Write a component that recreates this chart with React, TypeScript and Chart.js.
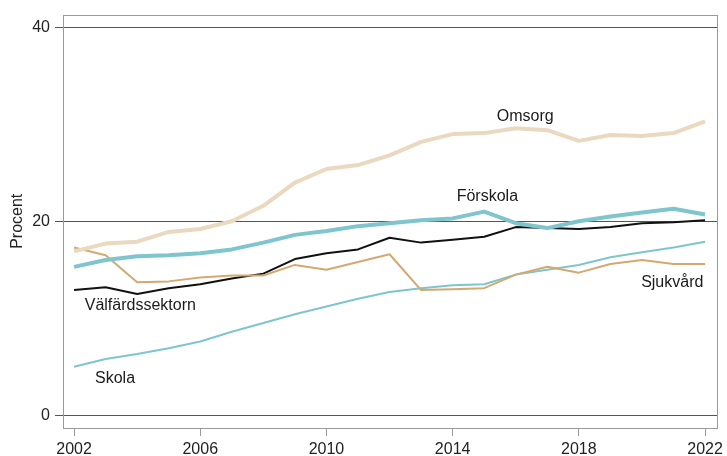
import React, { useEffect, useRef } from "react";
import { Chart, registerables } from "chart.js";

Chart.register(...registerables);

const years = [2002, 2003, 2004, 2005, 2006, 2007, 2008, 2009, 2010, 2011, 2012, 2013, 2014, 2015, 2016, 2017, 2018, 2019, 2020, 2021, 2022];
const omsorg = [16.9, 17.7, 17.9, 18.9, 19.2, 20.0, 21.6, 24.0, 25.4, 25.8, 26.8, 28.2, 29.0, 29.1, 29.6, 29.4, 28.3, 28.9, 28.8, 29.1, 30.3];
const forskola = [15.3, 16.0, 16.4, 16.5, 16.7, 17.1, 17.8, 18.6, 19.0, 19.5, 19.8, 20.1, 20.3, 21.0, 19.8, 19.3, 20.0, 20.5, 20.9, 21.3, 20.7];
const valfard = [12.9, 13.2, 12.5, 13.1, 13.5, 14.1, 14.6, 16.1, 16.7, 17.1, 18.3, 17.8, 18.1, 18.4, 19.4, 19.3, 19.2, 19.4, 19.8, 19.9, 20.1];
const sjukvard = [17.3, 16.5, 13.7, 13.8, 14.2, 14.4, 14.4, 15.5, 15.0, 15.8, 16.6, 12.9, 13.0, 13.1, 14.5, 15.3, 14.7, 15.6, 16.0, 15.6, 15.6];
const skola = [5.0, 5.8, 6.3, 6.9, 7.6, 8.6, 9.5, 10.4, 11.2, 12.0, 12.7, 13.1, 13.4, 13.5, 14.5, 15.0, 15.5, 16.3, 16.8, 17.3, 17.9];

const xTicks = [2002, 2006, 2010, 2014, 2018, 2022];
const yTicks = [0, 20, 40];

const labelTexts = ["Omsorg", "Förskola", "Välfärdssektorn", "Skola", "Sjukvård"];
const labelYears = [2016.3, 2015.1, 2004.1, 2003.3, 2020.96];
const labelValues = [30.8, 22.5, 11.3, 3.8, 13.7];

const FONT = "'Liberation Sans', Arial, sans-serif";

const pts = (vals: number[]) => vals.map((v, i) => ({ x: years[i], y: v }));

export default function App() {
  const ref = useRef<HTMLCanvasElement | null>(null);
  useEffect(() => {
    if (!ref.current) return;
    const boxPlugin = {
      id: "box",
      beforeDatasetsDraw(chart: any) {
        const { ctx, chartArea: a } = chart;
        ctx.save();
        ctx.strokeStyle = "#9a9a9a";
        ctx.lineWidth = 1;
        ctx.strokeRect(Math.round(a.left) + 0.5, Math.round(a.top) + 0.5, Math.round(a.right - a.left), Math.round(a.bottom - a.top));
        ctx.restore();
      },
    };
    const labelPlugin = {
      id: "labels",
      afterDatasetsDraw(chart: any) {
        const { ctx, scales } = chart;
        ctx.save();
        ctx.font = `16px ${FONT}`;
        ctx.fillStyle = "#1a1a1a";
        ctx.textAlign = "center";
        ctx.textBaseline = "middle";
        labelTexts.forEach((t, i) => {
          ctx.fillText(t, scales.x.getPixelForValue(labelYears[i]), scales.y.getPixelForValue(labelValues[i]));
        });
        ctx.restore();
      },
    };
    const chart = new Chart(ref.current, {
      type: "line",
      data: {
        datasets: [
          { label: "Omsorg", data: pts(omsorg), borderColor: "#ead8bf", borderWidth: 4 },
          { label: "Förskola", data: pts(forskola), borderColor: "#7ec5cd", borderWidth: 4 },
          { label: "Sjukvård", data: pts(sjukvard), borderColor: "#d3a971", borderWidth: 2 },
          { label: "Skola", data: pts(skola), borderColor: "#7ec5cd", borderWidth: 2 },
          { label: "Välfärdssektorn", data: pts(valfard), borderColor: "#111111", borderWidth: 2 },
        ],
      },
      options: {
        animation: false,
        responsive: false,
        devicePixelRatio: 1,
        elements: { point: { radius: 0 }, line: { tension: 0, borderJoinStyle: "round" } },
        layout: { padding: { top: 12, right: 7, left: 0, bottom: 0 } },
        plugins: { legend: { display: false }, tooltip: { enabled: false } },
        scales: {
          x: {
            type: "linear",
            min: 2001.65,
            max: 2022.38,
            afterBuildTicks: (s: any) => { s.ticks = xTicks.map((v) => ({ value: v })); },
            afterFit: (s: any) => { s.height = 28; },
            grid: { drawOnChartArea: false, drawTicks: true, tickLength: 8, tickColor: "#9a9a9a", color: "#9a9a9a" },
            border: { display: false },
            ticks: { color: "#222", font: { family: FONT, size: 16 }, padding: 4, maxRotation: 0, autoSkip: false, callback: (v: any) => String(v) },
          },
          y: {
            type: "linear",
            min: -1.33,
            max: 41.33,
            afterBuildTicks: (s: any) => { s.ticks = yTicks.map((v) => ({ value: v })); },
            afterFit: (s: any) => { s.width = 63; },
            grid: { color: "#555", lineWidth: 1, tickLength: 8, drawTicks: true },
            border: { display: false },
            ticks: { color: "#222", font: { family: FONT, size: 16 }, padding: 5 },
            title: { display: true, text: "Procent", color: "#222", font: { family: FONT, size: 16 }, padding: { top: 8, bottom: 0 } },
          },
        },
      },
      plugins: [boxPlugin, labelPlugin],
    } as any);
    return () => chart.destroy();
  }, []);
  return (
    <div style={{ position: "fixed", left: 0, top: 0, width: 727, height: 456, background: "#fff" }}>
      <canvas ref={ref} width={727} height={456} style={{ width: 727, height: 456, display: "block" }} />
    </div>
  );
}
